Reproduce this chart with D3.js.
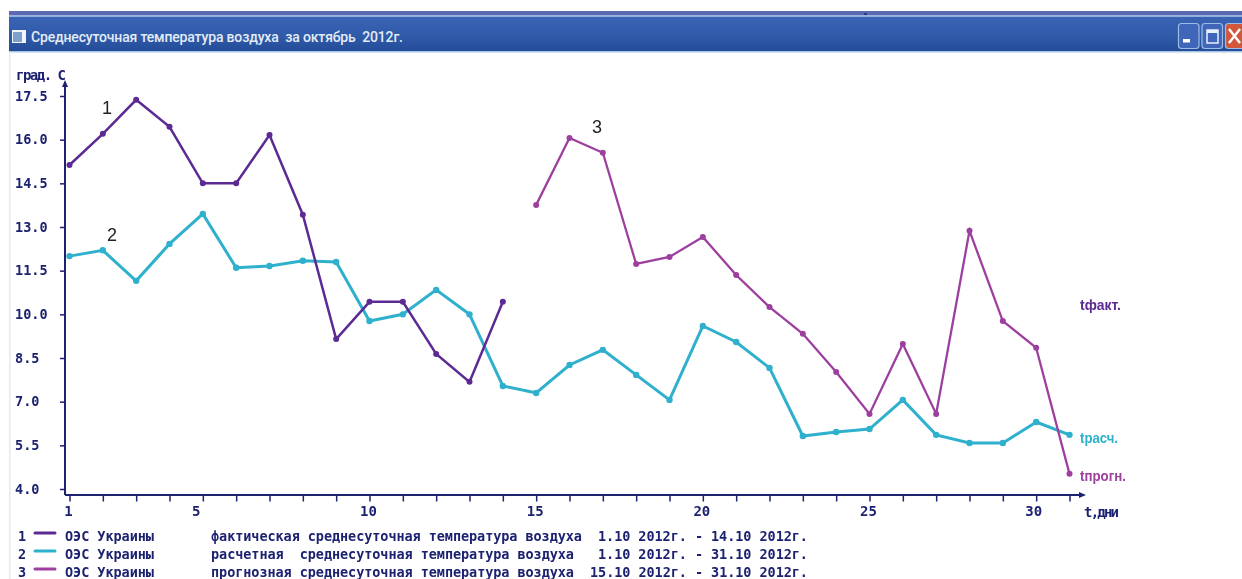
<!DOCTYPE html>
<html>
<head>
<meta charset="utf-8">
<script src="https://cdn.jsdelivr.net/npm/d3@7"></script>
<style>
  html, body { margin: 0; padding: 0; background: #fff; }
  svg { display: block; filter: blur(0.35px); }
  text { white-space: pre; }
  .mono { font-family: "DejaVu Sans Mono", monospace; font-weight: bold; fill: #1c2270; }
</style>
</head>
<body>
<div id="chart"></div>
<script>
var width = 1242, height = 579

// values
var days = d3.range(1, 32)
var factDays = days.slice(0, 14)
var factValues = [15.13, 16.2, 17.37, 16.44, 14.5, 14.5, 16.16, 13.42, 9.15, 10.43, 10.43, 8.64, 7.68, 10.43]
var calcValues = [12.0, 12.2, 11.15, 12.42, 13.45, 11.6, 11.66, 11.84, 11.8, 9.77, 10.0, 10.84, 10.0, 7.54, 7.3, 8.26,
  8.78, 7.92, 7.06, 9.6, 9.05, 8.16, 5.82, 5.96, 6.06, 7.06, 5.86, 5.58, 5.58, 6.3, 5.86]
var progDays = days.slice(14)
var progValues = [13.76, 16.06, 15.55, 11.73, 11.97, 12.66, 11.35, 10.25, 9.33, 8.02, 6.58, 8.98, 6.58, 12.87, 9.77, 8.85, 4.52]
var yTicks = [4.0, 5.5, 7.0, 8.5, 10.0, 11.5, 13.0, 14.5, 16.0, 17.5]
var xLabels = [1, 5, 10, 15, 20, 25, 30]
var legendNums = ['1', '2', '3']
var legendNames = ['ОЭС Украины', 'ОЭС Украины', 'ОЭС Украины']
var legendKinds = ['фактическая среднесуточная температура воздуха', 'расчетная  среднесуточная температура воздуха', 'прогнозная среднесуточная температура воздуха']
var legendDates = ['1.10 2012г. - 14.10 2012г.', '1.10 2012г. - 31.10 2012г.', '15.10 2012г. - 31.10 2012г.']

var colorFact = '#5b2a93', colorCalc = '#2fb0cc', colorProg = '#9c3f9e', axisColor = '#1c2270'

var svg = d3.select('#chart').append('svg')
  .attr('width', width)
  .attr('height', height)
  .style('font-family', 'Liberation Sans')

var defs = svg.append('defs')
var barGrad = defs.append('linearGradient').attr('id', 'bar').attr('x1', 0).attr('x2', 0).attr('y1', 0).attr('y2', 1)
barGrad.append('stop').attr('offset', 0).attr('stop-color', '#3a63b4')
barGrad.append('stop').attr('offset', 0.6).attr('stop-color', '#2f5aa8')
barGrad.append('stop').attr('offset', 1).attr('stop-color', '#234c98')

// window frame
svg.append('rect').attr('x', 9).attr('y', 11).attr('width', 1233).attr('height', 4.5).attr('fill', '#5b68b4')
svg.append('rect').attr('x', 9).attr('y', 15.5).attr('width', 1233).attr('height', 1.5).attr('fill', '#8fb0dc')
svg.append('rect').attr('x', 9).attr('y', 17).attr('width', 1233).attr('height', 34).attr('fill', 'url(#bar)')
svg.append('rect').attr('x', 9).attr('y', 51).attr('width', 1233).attr('height', 1.5).attr('fill', '#a9c6e6')
svg.append('rect').attr('x', 9).attr('y', 52).attr('width', 1.5).attr('height', 527).attr('fill', '#dcecf8')
svg.append('rect').attr('x', 864).attr('y', 13).attr('width', 3).attr('height', 2).attr('fill', '#2a3a80')

// title icon
svg.append('rect').attr('x', 12).attr('y', 30).attr('width', 14).attr('height', 13).attr('fill', '#f2f5fa')
svg.append('rect').attr('x', 13).attr('y', 32).attr('width', 9).attr('height', 10).attr('fill', '#7fa0cc')
svg.append('text').attr('x', 31).attr('y', 42).attr('fill', '#e3ebf7')
  .attr('font-family', 'Roboto').attr('font-weight', 500).attr('font-size', 14)
  .attr('textLength', 372).attr('lengthAdjust', 'spacing')
  .text('Среднесуточная температура воздуха  за октябрь  2012г.')

// window buttons
var btnG = svg.append('g').attr('class', 'buttons')
;[[1178.5, '#3f66b8'], [1202, '#3f66b8'], [1225.5, '#d2573a']].forEach(function(b) {
  btnG.append('rect').attr('x', b[0]).attr('y', 23.5).attr('width', 20.5).attr('height', 25).attr('rx', 3)
    .attr('fill', b[1]).attr('stroke', '#9dbbe6').attr('stroke-width', 1.2)
})
btnG.append('rect').attr('x', 1183).attr('y', 39).attr('width', 7).attr('height', 3.5).attr('fill', '#fff')
btnG.append('rect').attr('x', 1207).attr('y', 30).attr('width', 11).attr('height', 13).attr('fill', 'none').attr('stroke', '#e8f0fb').attr('stroke-width', 1.5)
btnG.append('rect').attr('x', 1207).attr('y', 30).attr('width', 11).attr('height', 3).attr('fill', '#e8f0fb')
btnG.append('path').attr('d', 'M1229,29L1240,43M1240,29L1229,43').attr('stroke', '#fff').attr('stroke-width', 2.5)

// scales
var x = d3.scaleLinear().domain([1, 31]).range([69.5, 1069.5])
var y = d3.scaleLinear().domain([4, 17.5]).range([489, 96])

// Y axis, labels sit flush left like in the original
var yAxis = d3.axisLeft(y).tickValues(yTicks).tickSize(5).tickFormat(d3.format('.1f'))
var yG = svg.append('g').attr('class', 'y-axis')
  .attr('transform', 'translate(65,0)')
  .call(yAxis)
yG.select('.domain').remove()
yG.selectAll('line').attr('stroke', axisColor).attr('stroke-width', 1.5)
yG.selectAll('text').attr('class', 'mono').attr('x', -50).attr('dy', '0.32em')
  .attr('text-anchor', 'start').attr('font-size', 13.5).style('font-family', 'DejaVu Sans Mono')
svg.append('line').attr('x1', 65).attr('x2', 65).attr('y1', 83).attr('y2', 495)
  .attr('stroke', axisColor).attr('stroke-width', 2)
svg.append('path').attr('d', 'M65,80L62,87L68,87Z').attr('fill', axisColor)

// X axis
var xAxis = d3.axisBottom(x).tickValues(days).tickSize(6.5).tickFormat(function(d) {
  return xLabels.indexOf(d) >= 0 ? d : ''
})
var xG = svg.append('g').attr('class', 'x-axis')
  .attr('transform', 'translate(0,495)')
  .call(xAxis)
xG.select('.domain').remove()
xG.selectAll('line').attr('stroke', axisColor).attr('stroke-width', 1.5)
xG.selectAll('text').attr('class', 'mono').attr('y', 11).attr('font-size', 14).style('font-family', 'DejaVu Sans Mono')
  .attr('dx', function(d) { return d === 5 ? -7 : d === 30 ? -3 : -1.5 })
svg.append('line').attr('x1', 65).attr('x2', 1082).attr('y1', 495).attr('y2', 495)
  .attr('stroke', axisColor).attr('stroke-width', 2)
svg.append('path').attr('d', 'M1086,495L1079,492L1079,498Z').attr('fill', axisColor)

svg.append('text').attr('class', 'mono').attr('x', 16).attr('y', 80).attr('font-size', 14).attr('textLength', 50).text('град. С')
svg.append('text').attr('class', 'mono').attr('x', 1084).attr('y', 517).attr('font-size', 14).attr('textLength', 35).text('t,дни')

// lines
var line = d3.line().x(function(d) { return x(d[0]) }).y(function(d) { return y(d[1]) })
function drawSeries(xs, ys, color, w, r) {
  var pts = d3.zip(xs, ys)
  svg.append('path').datum(pts).attr('d', line).attr('fill', 'none').attr('stroke', color).attr('stroke-width', w)
  svg.append('g').selectAll('circle').data(pts).enter().append('circle')
    .attr('cx', function(d) { return x(d[0]) })
    .attr('cy', function(d) { return y(d[1]) })
    .attr('r', r)
    .attr('fill', color)
}
drawSeries(days, calcValues, colorCalc, 3, 3.2)
drawSeries(factDays, factValues, colorFact, 2.5, 3)
drawSeries(progDays, progValues, colorProg, 2.3, 3)

// series numbers
;[['1', 107, 114], ['2', 112, 241], ['3', 597, 133]].forEach(function(n) {
  svg.append('text').attr('x', n[1]).attr('y', n[2]).attr('text-anchor', 'middle')
    .attr('font-size', 18).attr('fill', '#222').text(n[0])
})

// labels on the right
;[['tфакт.', 1080, 310, colorFact, 41], ['tрасч.', 1080, 443, colorCalc, 38], ['tпрогн.', 1080, 481, colorProg, 46]].forEach(function(l) {
  svg.append('text').attr('x', l[1]).attr('y', l[2]).attr('font-size', 14).attr('font-weight', 'bold')
    .attr('font-family', 'Liberation Sans').attr('fill', l[3]).attr('textLength', l[4]).attr('lengthAdjust', 'spacingAndGlyphs').text(l[0])
})

// legend
var legendY = [541, 559, 577]
var legendColors = [colorFact, colorCalc, colorProg]
legendNums.forEach(function(n, i) {
  var g = svg.append('g').attr('class', 'mono').attr('font-size', 13.5).attr('fill', axisColor)
  g.append('text').attr('class', 'mono').attr('x', 18).attr('y', legendY[i]).text(n)
  g.append('line').attr('x1', 35).attr('x2', 55).attr('y1', legendY[i] - 8).attr('y2', legendY[i] - 8)
    .attr('stroke', legendColors[i]).attr('stroke-width', 3).attr('stroke-linecap', 'round')
  g.append('text').attr('class', 'mono').attr('x', 65).attr('y', legendY[i]).attr('textLength', 89).text(legendNames[i])
  g.append('text').attr('class', 'mono').attr('x', 211).attr('y', legendY[i])
    .attr('textLength', i === 0 ? 371 : 363).text(legendKinds[i])
  g.append('text').attr('class', 'mono').attr('x', i === 2 ? 590 : 598).attr('y', legendY[i])
    .attr('textLength', i === 2 ? 218 : 210).text(legendDates[i])
})
</script>
</body>
</html>
